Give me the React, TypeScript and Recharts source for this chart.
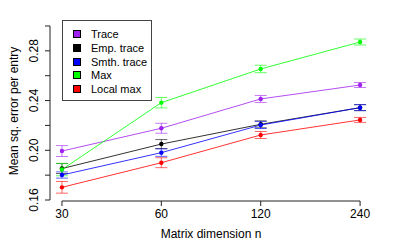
import React from 'react';
import { LineChart, Line, XAxis, YAxis, ErrorBar, ReferenceLine } from 'recharts';

const nValues = [30, 60, 120, 240];
const xTicks = [30, 60, 120, 240];
const yTicks = [0.16, 0.18, 0.2, 0.22, 0.24, 0.26, 0.28, 0.3];
const yLabeled = [0.16, 0.2, 0.24, 0.28];

const traceVals = [0.1994, 0.2177, 0.2413, 0.2525];
const traceErr = [0.0044, 0.004, 0.0028, 0.002];
const empVals = [0.1853, 0.205, 0.2209, 0.2343];
const empErr = [0.004, 0.0036, 0.0028, 0.0024];
const smthVals = [0.1801, 0.1981, 0.2203, 0.2343];
const smthErr = [0.0025, 0.003, 0.0028, 0.0024];
const maxVals = [0.1845, 0.2383, 0.2654, 0.2871];
const maxErr = [0.005, 0.0042, 0.003, 0.0024];
const localVals = [0.1702, 0.19, 0.2123, 0.2244];
const localErr = [0.0047, 0.004, 0.0028, 0.002];

const seriesNames = ['Trace', 'Emp. trace', 'Smth. trace', 'Max', 'Local max'];
const seriesColors = ['#A020F0', '#000000', '#0000FF', '#00FF00', '#FF0000'];
const seriesVals = [traceVals, empVals, smthVals, maxVals, localVals];
const seriesErrs = [traceErr, empErr, smthErr, maxErr, localErr];

const xDomain = [27.6, 260.8];
const yDomain = [0.1592, 0.304];

const data = nValues.map((n, i) => {
  const row: any = { n };
  seriesVals.forEach((vals, s) => {
    row['s' + s] = vals[i];
    row['e' + s] = seriesErrs[s][i];
  });
  return row;
});

const FONT = '"Liberation Sans", Arial, Helvetica, sans-serif';
const AXIS = '#222';

const XTick = (props: any) => {
  const { x, payload } = props;
  return (
    <text x={x} y={218} textAnchor="middle" fontSize={12} fontFamily={FONT} fill="#000">
      {payload.value}
    </text>
  );
};

const YTick = (props: any) => {
  const { y, payload } = props;
  const v = payload.value;
  const show = yLabeled.some((t) => Math.abs(t - v) < 1e-9);
  if (!show) return <g />;
  const bx = 38.5;
  return (
    <text
      x={bx}
      y={y}
      transform={`rotate(-90, ${bx}, ${y})`}
      textAnchor="middle"
      fontSize={12}
      fontFamily={FONT}
      fill="#000"
    >
      {v.toFixed(2)}
    </text>
  );
};

export default function App() {
  return (
    <div style={{ position: 'absolute', left: 0, top: 0, width: 402, height: 251, background: '#fff', fontFamily: FONT }}>
      <LineChart
        width={402}
        height={251}
        data={data}
        margin={{ top: 21, right: 30, bottom: 0, left: 0 }}
      >
        <XAxis
          dataKey="n"
          type="number"
          scale="log"
          domain={xDomain}
          ticks={xTicks}
          allowDataOverflow
          height={50}
          axisLine={false}
          tickLine={{ stroke: AXIS }}
          tickSize={5}
          tick={<XTick />}
          interval={0}
        />
        <YAxis
          type="number"
          domain={yDomain}
          ticks={yTicks}
          allowDataOverflow
          width={50}
          axisLine={false}
          tickLine={{ stroke: AXIS }}
          tickSize={5}
          tick={<YTick />}
          interval={0}
        />
        <ReferenceLine
          segment={[
            { x: xTicks[0], y: yDomain[0] },
            { x: xTicks[xTicks.length - 1], y: yDomain[0] },
          ]}
          stroke={AXIS}
          strokeWidth={1}
          ifOverflow="visible"
        />
        <ReferenceLine
          segment={[
            { x: xDomain[0], y: yTicks[0] },
            { x: xDomain[0], y: yTicks[yTicks.length - 1] },
          ]}
          stroke={AXIS}
          strokeWidth={1}
          ifOverflow="visible"
        />
        {seriesNames.map((name, s) => (
          <Line
            key={name}
            dataKey={'s' + s}
            name={name}
            stroke={seriesColors[s]}
            strokeWidth={1}
            strokeOpacity={0.8}
            dot={{ r: 2.2, fill: seriesColors[s], stroke: 'none' }}
            activeDot={false}
            isAnimationActive={false}
          >
            <ErrorBar
              dataKey={'e' + s}
              direction="y"
              width={6}
              stroke={seriesColors[s]}
              strokeOpacity={0.6}
              strokeWidth={1}
              isAnimationActive={false}
            />
          </Line>
        ))}
      </LineChart>
      <svg style={{ position: 'absolute', left: 0, top: 0 }} width={402} height={251} pointerEvents="none">
        <text
          x={18}
          y={111}
          transform="rotate(-90, 18, 111)"
          textAnchor="middle"
          fontSize={12}
          fontFamily={FONT}
          fill="#000"
        >
          Mean sq. error per entry
        </text>
        <text x={211} y={238} textAnchor="middle" fontSize={12} fontFamily={FONT} fill="#000">
          Matrix dimension n
        </text>
      </svg>
      <div
        style={{
          position: 'absolute',
          left: 62,
          top: 20,
          width: 90,
          height: 81,
          boxSizing: 'border-box',
          border: '1px solid #444',
          background: '#fff',
        }}
      >
        {seriesNames.map((name, s) => (
          <div
            key={name}
            style={{
              position: 'absolute',
              left: 0,
              top: 14.3 + s * 13.7 - 1 - 7,
              height: 14,
              display: 'flex',
              alignItems: 'center',
              whiteSpace: 'nowrap',
            }}
          >
            <div
              style={{
                marginLeft: 10,
                width: 8,
                height: 8,
                boxSizing: 'border-box',
                background: seriesColors[s],
                border: '1px solid #000',
              }}
            />
            <span style={{ marginLeft: 10, fontSize: 11, fontFamily: FONT, color: '#000', lineHeight: '14px' }}>
              {name}
            </span>
          </div>
        ))}
      </div>
    </div>
  );
}
